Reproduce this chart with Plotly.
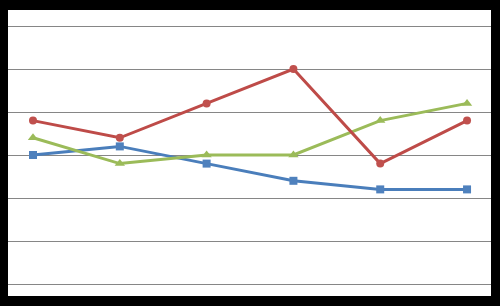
import plotly.graph_objects as go

categories = ["1", "2", "3", "4", "5", "6"]
red_values = [3.8, 3.4, 4.2, 5.0, 2.8, 3.8]
green_values = [3.4, 2.8, 3.0, 3.0, 3.8, 4.2]
blue_values = [3.0, 3.2, 2.8, 2.4, 2.2, 2.2]

fig = go.Figure()
fig.add_trace(go.Scatter(x=categories, y=blue_values, mode="lines+markers",
                         line=dict(color="#4A7EBB", width=3),
                         marker=dict(symbol="square", size=8, color="#4F81BD")))
fig.add_trace(go.Scatter(x=categories, y=green_values, mode="lines+markers",
                         line=dict(color="#9BBB59", width=3),
                         marker=dict(symbol="triangle-up", size=9, color="#9BBB59")))
fig.add_trace(go.Scatter(x=categories, y=red_values, mode="lines+markers",
                         line=dict(color="#BE4B48", width=3),
                         marker=dict(symbol="circle", size=8, color="#C0504D")))

fig.update_layout(
    width=500, height=306,
    margin=dict(l=8, r=9, t=10, b=10),
    paper_bgcolor="black", plot_bgcolor="white",
    showlegend=False,
    xaxis=dict(type="category", range=[-0.288, 5.276], showgrid=False,
               showticklabels=False, zeroline=False, showline=False, ticks=""),
    yaxis=dict(range=[-0.279, 6.372], dtick=1, tick0=0, showgrid=True,
               gridcolor="#868686", gridwidth=1, showticklabels=False,
               zeroline=True, zerolinecolor="#868686", zerolinewidth=1,
               showline=False, ticks=""),
)
fig.write_html("out.html")
